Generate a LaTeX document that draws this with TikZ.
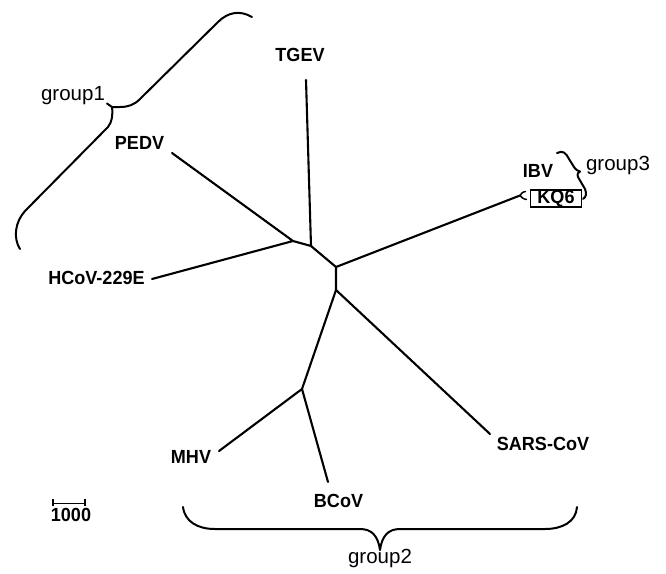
\documentclass[tikz,border=0pt]{standalone}
\usepackage{fontspec}
\setmainfont{Liberation Sans}
\newfontfamily\labelfont[FakeStretch=0.95]{Liberation Sans}
\begin{document}
\begin{tikzpicture}[x=1pt,y=-1pt,
  branch/.style={line width=2.1pt, line cap=round, line join=round},
  bracestyle/.style={line width=2pt, line cap=round, line join=round},
  taxon/.style={font=\labelfont\bfseries\fontsize{19}{21}\selectfont, inner sep=0pt},
  grouplabel/.style={font=\fontsize{20.5}{24}\selectfont, inner sep=0pt},
  boxed/.style={draw, line width=1.3pt, minimum width=51pt, minimum height=17pt, inner sep=0pt}]
\useasboundingbox (0,0) rectangle (666,573);

% internal vertices
\coordinate (A) at (293,241);
\coordinate (B) at (311,246);
\coordinate (C) at (336,267);
\coordinate (D) at (336,290);
\coordinate (E) at (302,389);
% leaf ends
\coordinate (lTGEV) at (306,80);
\coordinate (lPEDV) at (172,153);
\coordinate (lHCoV) at (152,279);
\coordinate (lIBV) at (520,195.5);
\coordinate (lSARS) at (490,434);
\coordinate (lMHV) at (219,451);
\coordinate (lBCoV) at (328,482);

\draw[branch] (lPEDV) -- (A) -- (lHCoV);
\draw[branch] (A) -- (B) -- (lTGEV);
\draw[branch] (B) -- (C) -- (lIBV);
\draw[branch] (C) -- (D) -- (lSARS);
\draw[branch] (D) -- (E) -- (lMHV);
\draw[branch] (E) -- (lBCoV);

% labels
\node[taxon] (TGEV) at (300,54.5) {TGEV};
\node[taxon] (PEDV) at (139.5,142.5) {PEDV};
\node[taxon] (HCoV) at (96.5,278) {HCoV-229E};
\node[taxon] (IBV) at (538,170.5) {IBV};
\node[taxon, boxed] (KQ6) at (556,198.5) {KQ6};
\node[taxon] (SARS) at (543,444) {SARS-CoV};
\node[taxon] (MHV) at (191,457) {MHV};
\node[taxon] (BCoV) at (338.5,501) {BCoV};
\node[taxon] (scale) at (71,514.5) {1000};

\node[grouplabel] (g1) at (73,96) {group1};
\node[grouplabel] (g2) at (380,558) {group2};
\node[grouplabel] (g3) at (618,165) {group3};

% scale bar
\coordinate (sb1) at (53,503.5);
\coordinate (sb2) at (85,503.5);
\draw[line width=1.5pt] (sb1) -- (sb2);
\draw[line width=1.5pt] ([yshift=-2pt]sb1) -- ([yshift=4.5pt]sb1);
\draw[line width=1.5pt] ([yshift=-2pt]sb2) -- ([yshift=4.5pt]sb2);

% group1 brace
\draw[bracestyle] (252,17) .. controls (240,10) and (228,12) .. (218,22)
  -- (140,99) .. controls (134,105) and (128,107) .. (120,107) -- (112,107);
\draw[bracestyle] (112,107) -- (107,103.5);
\draw[bracestyle] (112,107) .. controls (113,115) and (112,122) .. (108,127)
  -- (25,211) .. controls (15,222) and (13,238) .. (20,249);

% group2 brace
\draw[bracestyle] (183,507) .. controls (185,522) and (198,529) .. (215,529)
  -- (360,529) .. controls (372,529) and (378,536) .. (380,550)
  .. controls (382,536) and (388,529) .. (400,529)
  -- (545,529) .. controls (562,529) and (576,522) .. (577,507);

% group3 brace
\draw[bracestyle] (557,153) .. controls (563,150) and (566,153) .. (569,159)
  -- (574,167) .. controls (576,170) and (578,171) .. (580,171.5)
  .. controls (578,172) and (577,174) .. (578,177)
  -- (585,189) .. controls (587,194) and (586,197) .. (583,199);

% small brace at KQ6
\draw[line width=1.5pt, line cap=round] (525.5,191.5) .. controls (522,192) and (521,194) .. (lIBV)
  .. controls (521,197) and (523,199) .. (526.5,199.5);
\end{tikzpicture}
\end{document}
